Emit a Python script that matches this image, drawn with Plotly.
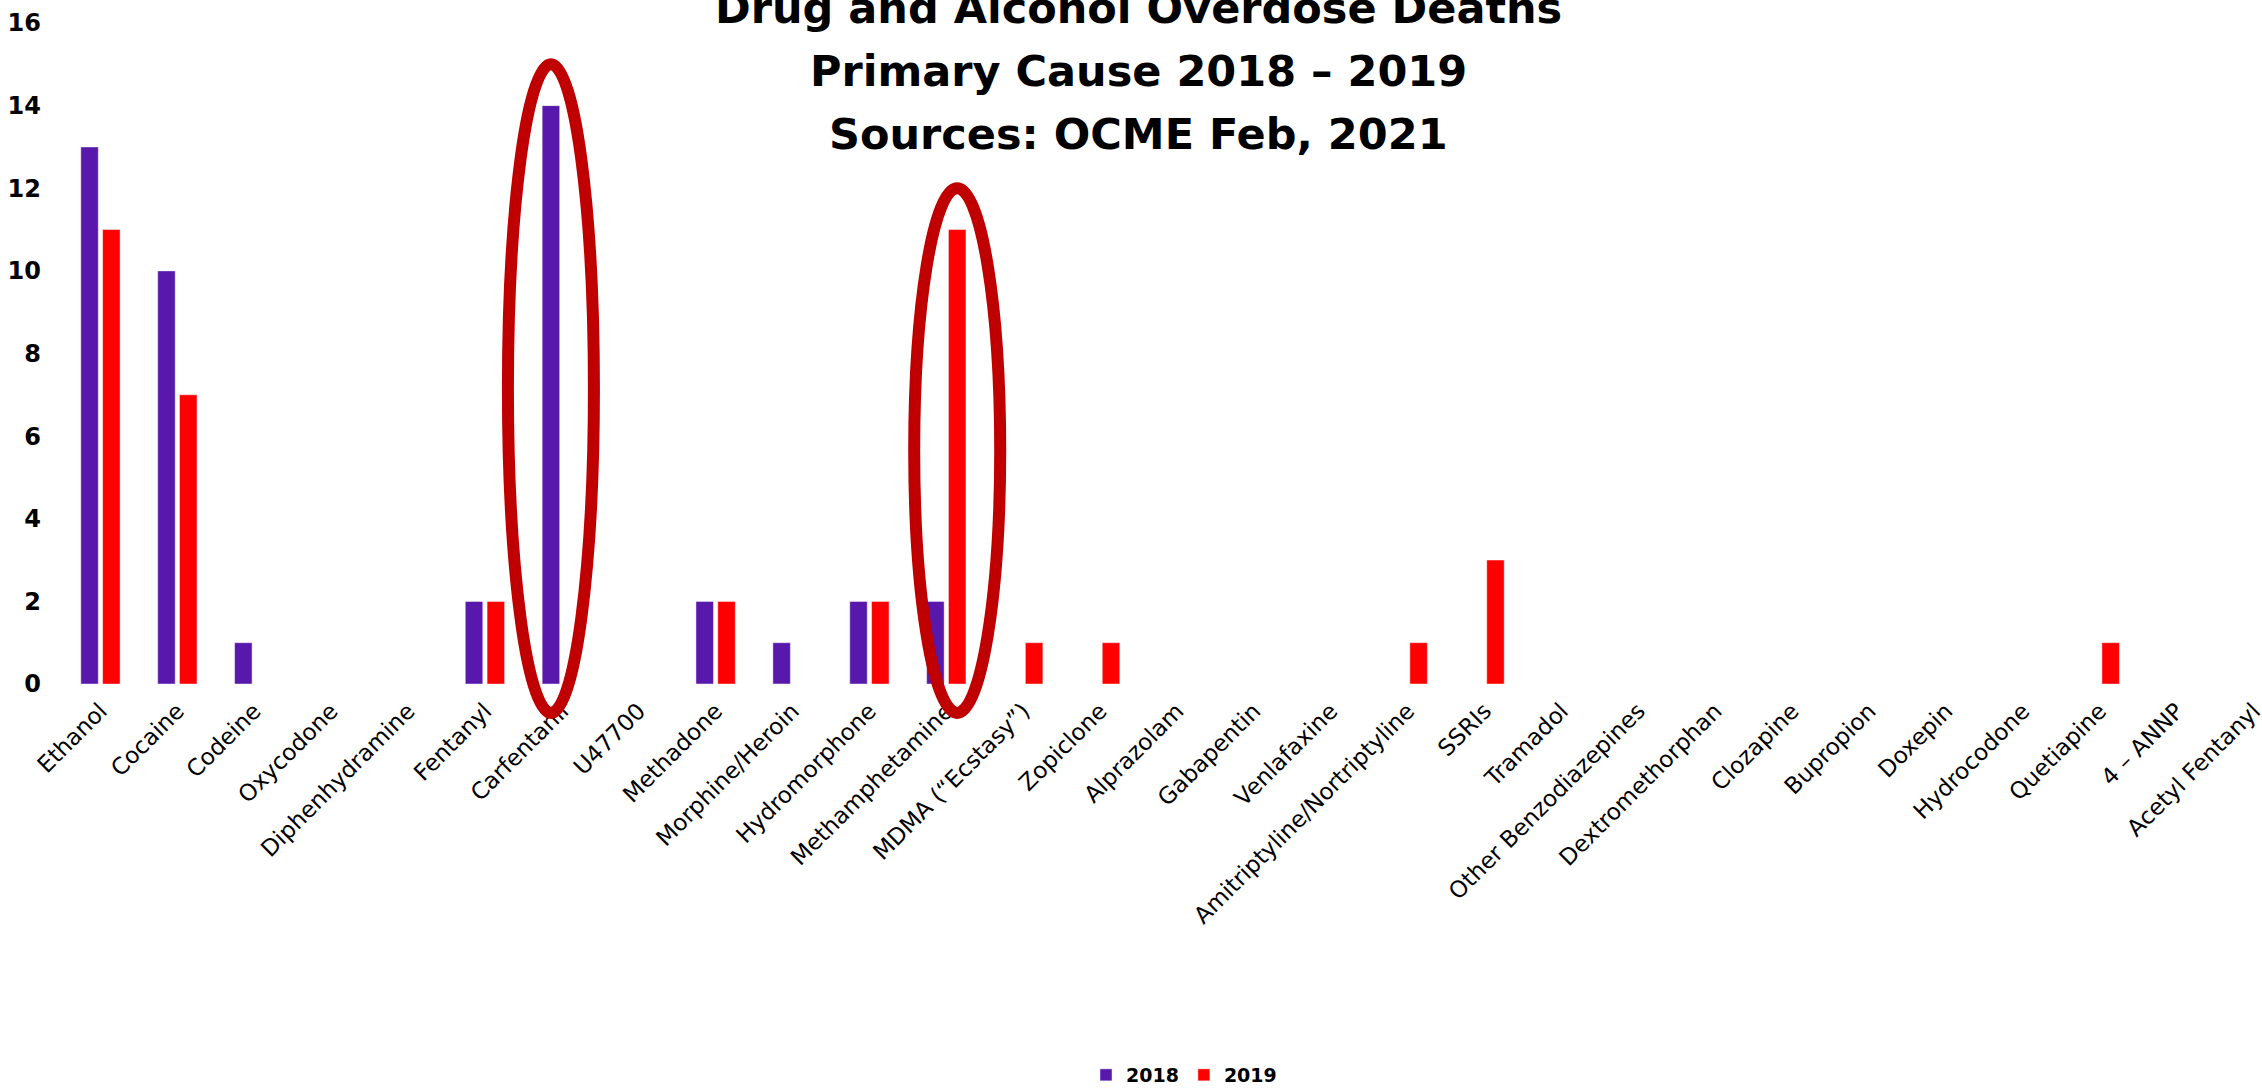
import plotly.graph_objects as go

# Primary-cause overdose deaths by substance
substances = [
    "Ethanol", "Cocaine", "Codeine", "Oxycodone", "Diphenhydramine", "Fentanyl",
    "Carfentanil", "U47700", "Methadone", "Morphine/Heroin", "Hydromorphone",
    "Methamphetamine", "MDMA (\u201cEcstasy\u201d)", "Zopiclone", "Alprazolam",
    "Gabapentin", "Venlafaxine", "Amitriptyline/Nortriptyline", "SSRIs", "Tramadol",
    "Other Benzodiazepines", "Dextromethorphan", "Clozapine", "Bupropion", "Doxepin",
    "Hydrocodone", "Quetiapine", "4 \u2013 ANNP", "Acetyl Fentanyl",
]
deaths_2018 = [13, 10, 1, 0, 0, 2, 14, 0, 2, 1, 2, 2, 0, 0, 0, 0, 0, 0, 0, 0,
               0, 0, 0, 0, 0, 0, 0, 0, 0]
deaths_2019 = [11, 7, 0, 0, 0, 2, 0, 0, 2, 0, 2, 11, 1, 1, 0, 0, 0, 1, 3, 0,
               0, 0, 0, 0, 0, 0, 1, 0, 0]

title_lines = [
    "Drug and Alcohol Overdose Deaths",
    "Primary Cause 2018 \u2013 2019",
    "Sources: OCME Feb, 2021",
]

# bars circled for emphasis: (substance, year)
highlights = [("Carfentanil", "2018"), ("Methamphetamine", "2019")]

PURPLE = "#5718AB"
RED = "#FF0000"
RING = "#C00000"
FONT = "DejaVu Sans"

W, H = 2262, 1088
M_L, M_R, M_T, M_B = 62, 0, 23, 404
X_RANGE = [-0.5, 28.11]
Y_RANGE = [0, 16]
BARGAP = 0.433
BARGROUPGAP = 0.197

fig = go.Figure()
for name, vals, col in (("2018", deaths_2018, PURPLE), ("2019", deaths_2019, RED)):
    fig.add_trace(go.Bar(
        name=name, x=substances, y=vals,
        marker=dict(color=col, line=dict(color="rgba(255,255,255,0.45)", width=1)),
    ))

# convert data coordinates to paper coordinates so rings may extend below the axis
plot_w = W - M_L - M_R
plot_h = H - M_T - M_B
def x_paper(xv):
    return (xv - X_RANGE[0]) / (X_RANGE[1] - X_RANGE[0])
def y_paper(yv):
    return (yv - Y_RANGE[0]) / (Y_RANGE[1] - Y_RANGE[0])

series = {"2018": deaths_2018, "2019": deaths_2019}
bar_offset = (1 - BARGAP) / 4
for sub, year in highlights:
    i = substances.index(sub)
    xc = i + (-bar_offset if year == "2018" else bar_offset)
    top = series[year][i] + 1.0
    half_w = 43 / plot_w
    fig.add_shape(
        type="circle", xref="paper", yref="paper",
        x0=x_paper(xc) - half_w, x1=x_paper(xc) + half_w,
        y0=y_paper(-0.7), y1=y_paper(top),
        line=dict(color=RING, width=12), fillcolor="rgba(0,0,0,0)",
    )

# three-line heading
line_px = [8, 71, 134]
for txt, py in zip(title_lines, line_px):
    fig.add_annotation(
        text=txt, xref="paper", yref="paper",
        x=(1138 - M_L) / plot_w, y=(H - M_B - py) / plot_h,
        xanchor="center", yanchor="middle", showarrow=False,
        font=dict(family=FONT, size=43, color="black", weight="bold"),
    )

fig.update_layout(
    width=W, height=H,
    margin=dict(l=M_L, r=M_R, t=M_T, b=M_B, autoexpand=False),
    paper_bgcolor="white", plot_bgcolor="white",
    barmode="group", bargap=BARGAP, bargroupgap=BARGROUPGAP,
    showlegend=True,
    legend=dict(
        orientation="h", x=(1184 - M_L) / plot_w, xanchor="center",
        y=(H - M_B - 1075) / plot_h, yanchor="middle",
        font=dict(family=FONT, size=19, color="black", weight="bold"),
        itemwidth=30, traceorder="normal",
    ),
    xaxis=dict(
        range=X_RANGE, tickangle=-45, showgrid=False, zeroline=False,
        showline=False, ticks="", ticklabelstandoff=8,
        tickfont=dict(family=FONT, size=23, color="black"),
    ),
    yaxis=dict(
        range=Y_RANGE, dtick=2, showgrid=False, zeroline=False, showline=False,
        ticks="", ticklabelstandoff=20,
        tickfont=dict(family=FONT, size=24, color="black", weight="bold"),
    ),
)

fig.write_html("out.html")
